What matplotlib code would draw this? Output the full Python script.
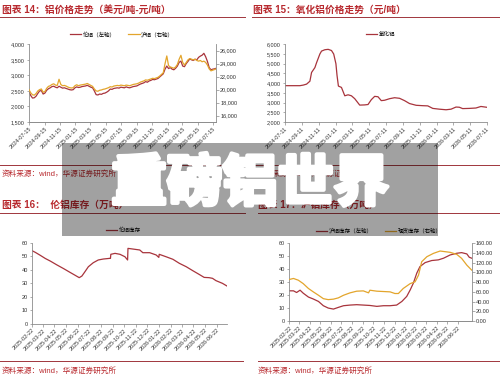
import matplotlib
matplotlib.use("Agg")
import matplotlib.pyplot as plt
import matplotlib.dates as mdates
import matplotlib.patheffects as pe
from matplotlib.patches import Rectangle
from matplotlib.lines import Line2D
from matplotlib.ticker import FuncFormatter, MultipleLocator
import pandas as pd

# ---- data ----
# chart 14: weekly aluminium prices, LME (USD/t, left) and SHFE (CNY/t, right)
price_start = "2024-07-15"
lme_price = [
    2480, 2350, 2270, 2280, 2330, 2420, 2500, 2510, 2400, 2430,
    2520, 2570, 2600, 2640, 2650, 2620, 2600, 2650, 2620, 2590,
    2600, 2580, 2560, 2540, 2530, 2540, 2600, 2630, 2610, 2620,
    2640, 2650, 2660, 2680, 2650, 2620, 2600, 2500, 2380, 2370,
    2400, 2390, 2420, 2430, 2460, 2500, 2560, 2550, 2580, 2590,
    2600, 2590, 2620, 2610, 2600, 2630, 2610, 2600, 2620, 2640,
    2650, 2660, 2690, 2720, 2740, 2760, 2800, 2780, 2820, 2840,
    2870, 2860, 2880, 2900, 2950, 3000, 3050, 3200, 3300, 3220,
    3250, 3200, 3180, 3230, 3300, 3420, 3460, 3300, 3280, 3380,
    3450, 3530, 3500, 3480, 3520, 3500, 3580, 3620, 3650, 3710,
    3600, 3450, 3250, 3180, 3200, 3210, 3230]
shfe_price = [
    20000, 19500, 19200, 19150, 19400, 19800, 20000, 20100, 19600, 19700,
    20200, 20500, 20600, 20800, 20900, 20700, 20650, 21600, 20800, 20600,
    20650, 20550, 20400, 20300, 20250, 20300, 20600, 20750, 20600, 20700,
    20750, 20800, 20850, 20950, 20800, 20650, 20500, 20100, 19800, 19750,
    19900, 19950, 20050, 20100, 20200, 20300, 20450, 20400, 20550, 20600,
    20650, 20600, 20700, 20650, 20600, 20700, 20650, 20600, 20700, 20800,
    20850, 20900, 21000, 21150, 21250, 21350, 21500, 21450, 21550, 21650,
    21750, 21700, 21800, 21900, 22100, 22350, 22600, 24000, 25200, 23700,
    23500, 23400, 23300, 23500, 23900, 24700, 25300, 24200, 23800, 24200,
    24600, 24800, 24700, 24600, 24700, 24500, 24400, 24500, 24300, 24400,
    24200, 23800, 23200, 22900, 23000, 23100, 23200]
ticks14 = ["2024-07-15", "2024-09-15", "2024-11-15", "2025-01-15", "2025-03-15",
           "2025-05-15", "2025-07-15", "2025-09-15", "2025-11-15", "2026-01-15",
           "2026-03-15", "2026-05-15", "2026-07-15"]

# chart 15: alumina price (CNY/t)
alumina_dates = [
    "2024-07-11", "2024-09-03", "2024-09-15", "2024-09-27", "2024-10-09", "2024-10-15",
    "2024-10-27", "2024-11-02", "2024-11-14", "2024-11-20", "2024-12-02", "2024-12-14",
    "2024-12-26", "2025-01-03", "2025-01-11", "2025-01-15", "2025-01-20", "2025-01-31",
    "2025-02-12", "2025-02-24", "2025-03-08", "2025-03-20", "2025-04-07", "2025-04-25",
    "2025-05-07", "2025-05-19", "2025-05-31", "2025-06-12", "2025-06-24", "2025-07-06",
    "2025-07-24", "2025-08-11", "2025-08-29", "2025-09-16", "2025-10-04", "2025-10-28",
    "2025-11-21", "2025-12-09", "2025-12-27", "2026-01-20", "2026-02-13", "2026-03-03",
    "2026-03-21", "2026-04-02", "2026-04-14", "2026-05-08", "2026-06-01", "2026-06-19",
    "2026-07-09"]
alumina = [
    3870, 3870, 3900, 3950, 4100, 4550, 4800, 5050, 5500, 5650, 5720, 5740,
    5680, 5500, 5000, 4400, 3850, 3780, 3350, 3400, 3350, 3200, 2870, 2880,
    2900, 3150, 3320, 3300, 3100, 3120, 3200, 3250, 3220, 3100, 2950, 2860,
    2840, 2830, 2700, 2660, 2630, 2660, 2770, 2760, 2690, 2700, 2720, 2800,
    2760]
ticks15 = ["2024-07-11", "2024-09-11", "2024-11-11", "2025-01-11", "2025-03-11",
           "2025-05-11", "2025-07-11", "2025-09-11", "2025-11-11", "2026-01-11",
           "2026-03-11", "2026-05-11", "2026-07-11"]

# chart 16: LME inventory (10k t)
lme_inv_dates = [
    "2025-02-22", "2025-03-03", "2025-03-16", "2025-03-29", "2025-04-11", "2025-04-28",
    "2025-05-16", "2025-06-02", "2025-06-15", "2025-06-26", "2025-07-03", "2025-07-11",
    "2025-07-20", "2025-08-02", "2025-08-15", "2025-08-28", "2025-09-14", "2025-09-16",
    "2025-09-17", "2025-09-28", "2025-10-11", "2025-10-24", "2025-10-31", "2025-11-01",
    "2025-11-14", "2025-12-02", "2025-12-10", "2025-12-28", "2026-01-14", "2026-01-21",
    "2026-01-22", "2026-02-09", "2026-02-27", "2026-03-16", "2026-04-03", "2026-04-20",
    "2026-05-07", "2026-05-20", "2026-06-02", "2026-06-11", "2026-06-20", "2026-07-07",
    "2026-07-19"]
lme_inv = [
    54.1, 52.8, 50.6, 48.3, 46.4, 43.6, 40.8, 38.0, 35.9, 34.1, 35.3, 38.5,
    42.2, 45.2, 47.2, 47.9, 48.4, 48.4, 51.4, 52.1, 51.4, 49.6, 47.2, 55.8,
    55.3, 54.6, 52.6, 52.6, 50.9, 49.1, 51.4, 49.6, 47.7, 44.7, 42.2, 39.3,
    36.5, 34.3, 34.1, 33.6, 31.9, 29.9, 27.9]

# chart 17: SHFE inventory (left) and spot inventory (right)
shfe_inv_dates = [
    "2025-02-22", "2025-03-06", "2025-03-15", "2025-03-25", "2025-04-03", "2025-04-18",
    "2025-05-02", "2025-05-17", "2025-05-31", "2025-06-14", "2025-06-29", "2025-07-13",
    "2025-07-28", "2025-08-16", "2025-09-04", "2025-09-23", "2025-10-12", "2025-11-01",
    "2025-11-20", "2025-12-09", "2025-12-28", "2026-01-12", "2026-01-26", "2026-02-05",
    "2026-02-14", "2026-02-24", "2026-03-05", "2026-03-20", "2026-04-08", "2026-04-27",
    "2026-05-12", "2026-05-31", "2026-06-19", "2026-07-03", "2026-07-18", "2026-07-25",
    "2026-08-01"]
shfe_inv = [
    23.3, 23.3, 22.0, 23.8, 21.5, 18.5, 17.0, 15.1, 11.8, 10.0, 9.2, 10.5,
    11.8, 12.3, 12.6, 12.3, 12.0, 11.3, 11.8, 11.8, 12.3, 15.1, 19.0, 24.0,
    29.2, 37.0, 42.0, 45.1, 46.7, 47.2, 48.5, 51.0, 52.3, 52.8, 51.8, 49.2,
    48.5]
spot_inv_dates = [
    "2025-02-22", "2025-03-06", "2025-03-20", "2025-04-03", "2025-04-18", "2025-05-02",
    "2025-05-17", "2025-05-31", "2025-06-14", "2025-06-29", "2025-07-13", "2025-07-28",
    "2025-08-16", "2025-09-04", "2025-09-23", "2025-10-08", "2025-10-12", "2025-11-01",
    "2025-11-20", "2025-12-09", "2025-12-23", "2026-01-02", "2026-01-16", "2026-02-05",
    "2026-02-19", "2026-03-01", "2026-03-10", "2026-03-25", "2026-04-13", "2026-05-02",
    "2026-05-16", "2026-05-31", "2026-06-19", "2026-07-03", "2026-07-18", "2026-08-01"]
spot_inv = [
    85.5, 87.6, 84.0, 77.0, 67.0, 60.0, 53.0, 46.0, 44.0, 45.0, 47.6, 53.0,
    58.0, 61.4, 62.0, 58.0, 63.4, 61.4, 60.7, 60.0, 56.6, 56.6, 67.0, 77.0,
    80.7, 94.5, 122.0, 132.4, 139.3, 144.1, 142.8, 141.4, 137.2, 129.0, 115.0,
    104.8]
ticks_inv = ["2025-02-22", "2025-03-22", "2025-04-22", "2025-05-22", "2025-06-22",
             "2025-07-22", "2025-08-22", "2025-09-22", "2025-10-22", "2025-11-22",
             "2025-12-22", "2026-01-22", "2026-02-22", "2026-03-22", "2026-04-22",
             "2026-05-22", "2026-06-22"]

# ---- layout / style ----
W, H = 500, 380
RED = "#a8343c"
ORANGE = "#e3a52c"
TITLE_RED = "#b8292e"
GREY = "#8c8c8c"

plt.rcParams["font.family"] = ["Liberation Sans", "Noto Sans CJK SC", "DejaVu Sans"]


def rect(x0, y0, x1, y1):
    return [x0 / W, 1 - y1 / H, (x1 - x0) / W, (y1 - y0) / H]


def fx(x):
    return x / W


def fy(y):
    return 1 - y / H


def style(ax, left=True, right=False):
    ax.spines["top"].set_visible(False)
    ax.spines["left"].set_visible(left)
    ax.spines["right"].set_visible(right)
    for s in ax.spines.values():
        s.set_color(GREY)
        s.set_linewidth(0.6)
    ax.tick_params(labelsize=4, length=1.8, width=0.5, color=GREY, pad=1.2,
                   labelcolor="#333333")
    ax.patch.set_alpha(0)


def date_axis(ax, ticks, lo, hi):
    ax.set_xlim(pd.Timestamp(lo), pd.Timestamp(hi))
    ax.set_xticks(pd.to_datetime(ticks))
    ax.xaxis.set_major_formatter(mdates.DateFormatter("%Y-%m-%d"))
    for lab in ax.get_xticklabels():
        lab.set_rotation(45)
        lab.set_ha("right")
        lab.set_va("top")
        lab.set_rotation_mode("anchor")


def legend(ax, handles, labels, x, y):
    ax.legend(handles, labels, loc="center", bbox_to_anchor=(fx(x), fy(y)),
              bbox_transform=ax.figure.transFigure, ncol=len(handles), frameon=False,
              fontsize=4, handlelength=2.0, handletextpad=0.3, columnspacing=2.3)


comma = FuncFormatter(lambda v, p: f"{v:,.0f}")

fig = plt.figure(figsize=(W / 100, H / 100), dpi=100)
fig.patch.set_facecolor("white")

# chart 14
ax = fig.add_axes(rect(29, 44.3, 216, 122))
ax2 = ax.twinx()
d14 = pd.date_range(price_start, periods=len(lme_price), freq="7D")
l1, = ax.plot(d14, lme_price, color=RED, lw=0.9)
l2, = ax2.plot(d14, shfe_price, color=ORANGE, lw=0.9)
ax.set_ylim(1500, 4000)
ax.yaxis.set_major_locator(MultipleLocator(500))
ax.yaxis.set_major_formatter(comma)
ax2.set_ylim(15000, 27000)
ax2.yaxis.set_major_locator(MultipleLocator(2000))
ax2.yaxis.set_major_formatter(comma)
style(ax)
style(ax2, left=False, right=True)
date_axis(ax, ticks14, "2024-07-15", "2026-07-26")
legend(ax, [l1, l2], ["伦铝（左轴）", "沪铝（右轴）"], 122, 34)

# chart 15
ax = fig.add_axes(rect(285, 44.3, 487, 122))
l1, = ax.plot(pd.to_datetime(alumina_dates), alumina, color=RED, lw=0.9)
ax.set_ylim(2000, 6000)
ax.yaxis.set_major_locator(MultipleLocator(500))
ax.yaxis.set_major_formatter(comma)
style(ax)
date_axis(ax, ticks15, "2024-07-11", "2026-07-11")
legend(ax, [l1], ["氧化铝"], 381, 34)

# chart 16
ax = fig.add_axes(rect(32, 242.7, 227, 323.7))
l1, = ax.plot(pd.to_datetime(lme_inv_dates), lme_inv, color=RED, lw=0.9)
ax.set_ylim(0, 60)
ax.yaxis.set_major_locator(MultipleLocator(10))
style(ax)
date_axis(ax, ticks_inv, "2025-02-22", "2026-07-19")
legend(ax, [l1], ["伦铝库存"], 123.5, 230)

# chart 17
ax = fig.add_axes(rect(289.3, 243.3, 471.7, 321))
ax2 = ax.twinx()
l1, = ax.plot(pd.to_datetime(shfe_inv_dates), shfe_inv, color=RED, lw=0.9)
l2, = ax2.plot(pd.to_datetime(spot_inv_dates), spot_inv, color=ORANGE, lw=0.9)
ax.set_ylim(0, 60)
ax.yaxis.set_major_locator(MultipleLocator(10))
ax2.set_ylim(0, 160)
ax2.yaxis.set_major_locator(MultipleLocator(20))
ax2.yaxis.set_major_formatter(FuncFormatter(lambda v, p: f"{v:.2f}"))
style(ax)
style(ax2, left=False, right=True)
date_axis(ax, ticks_inv, "2025-02-22", "2026-08-01")
legend(ax, [l1, l2], ["沪铝库存（左轴）", "现货库存（右轴）"], 379, 231)

# ---- page furniture: titles, rules, sources ----
title_kw = dict(color=TITLE_RED, fontsize=7, fontweight="bold", va="center")
fig.text(fx(2), fy(10), "图表 14：铝价格走势（美元/吨-元/吨）", **title_kw)
fig.text(fx(253), fy(10), "图表 15：氧化铝价格走势（元/吨）", **title_kw)
fig.text(fx(2), fy(205), "图表 16：  伦铝库存（万吨）", **title_kw)
fig.text(fx(258), fy(205), "图表 17：沪铝库存（万吨）", **title_kw)

src_kw = dict(color=TITLE_RED, fontsize=5.5, va="center")
for x, y in [(2, 174), (258, 174), (2, 371), (258, 371)]:
    fig.text(fx(x), fy(y), "资料来源：wind，华源证券研究所", **src_kw)

for x0, x1, y in [(0, 245, 16.5), (252, 500, 16.5), (0, 245, 165), (252, 500, 165),
                  (0, 245, 213), (258, 500, 213), (0, 243, 361), (258, 500, 361)]:
    fig.add_artist(Line2D([fx(x0), fx(x1)], [fy(y), fy(y)], transform=fig.transFigure,
                          color="#a0353c", lw=0.7))

# ---- grey overlay banner with white watermark text ----
fig.add_artist(Rectangle((fx(62), fy(236)), (438 - 62) / W, (236 - 143) / H,
                         transform=fig.transFigure, facecolor="black", alpha=0.37,
                         edgecolor="none", zorder=5))
fig.text(0.5, fy(186), "重磅铝世界", fontsize=40, color="white", fontweight="black",
         ha="center", va="center", zorder=6,
         path_effects=[pe.withStroke(linewidth=3, foreground="white")])

fig.savefig("out.png", dpi=100)
